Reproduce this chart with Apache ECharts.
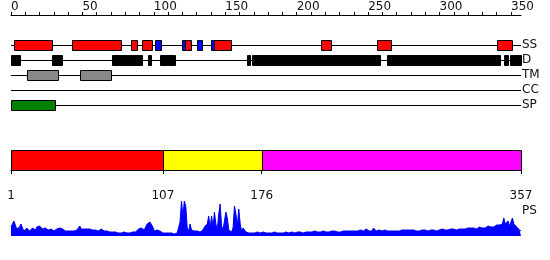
<!DOCTYPE html>
<html><head><meta charset="utf-8">
<script src="https://cdn.jsdelivr.net/npm/echarts@6/dist/echarts.min.js"></script>
<style>html,body{margin:0;padding:0;background:#fff}#c{width:550px;height:260px}</style>
</head><body><div id="c"></div>
<script>
const tracks = ['SS', 'D', 'TM', 'CC', 'SP'];
const seqLength = 357;
const topTickLabels = [0, 50, 100, 150, 200, 250, 300, 350];
const bottomTickLabels = [1, 107, 176, 357];

const ssStart = [3, 44, 85, 93, 102, 121, 123, 131, 141, 143, 218, 257, 341];
const ssEnd   = [29, 77, 88, 99, 105, 122, 126, 134, 142, 154, 224, 266, 351];
const ssType  = ['H', 'H', 'H', 'H', 'E', 'E', 'H', 'E', 'E', 'H', 'H', 'H', 'H'];
const disStart = [1, 30, 72, 97, 105, 166, 170, 264, 346, 350];
const disEnd   = [6, 36, 92, 98, 115, 167, 258, 342, 348, 357];
const tmStart = [12, 49];
const tmEnd   = [33, 70];
const ccStart = [];
const ccEnd   = [];
const spStart = [1];
const spEnd   = [31];
const domainStart = [1, 107, 176];

const psProfile = [
9,12,15,11,7,6,9,12,8,5,
6,8,7,5,6,8,7,6,9,8,
10,9,7,6,8,7,6,5,7,6,
5,6,7,6,8,9,7,6,5,6,
5,4,5,6,5,7,6,8,10,7,
6,7,6,7,6,7,6,6,7,6,
6,5,6,7,6,5,6,5,4,4,
3,4,3,4,3,3,4,3,3,4,
3,3,4,3,3,4,3,4,5,7,
6,8,7,6,9,12,10,14,15,9,
5,4,6,8,5,3,3,4,3,3,
3,2,3,3,2,3,3,2,14,35,
20,35,30,8,5,12,6,4,5,4,
5,6,4,5,6,9,7,12,20,8,
20,9,24,12,6,22,32,10,6,8,
24,18,6,5,4,8,30,22,10,27,
12,5,8,6,4,3,3,4,3,3,
3,3,4,3,3,3,4,3,3,4,
3,4,3,3,4,3,3,4,3,4,
3,3,4,4,3,3,4,4,3,4,
4,3,4,4,3,4,4,5,4,4,
4,4,5,4,4,5,4,4,5,4,
4,5,4,4,5,4,5,4,4,5,
4,5,5,4,5,6,5,4,5,5,
5,4,5,5,6,5,5,6,7,5,
5,6,5,8,6,5,5,6,5,5,
5,6,5,5,6,5,6,5,6,5,
6,5,5,6,8,6,5,6,5,6,
5,6,6,5,6,5,6,6,5,6,
6,5,6,6,7,6,6,5,6,6,
6,7,6,6,7,6,7,7,6,7,
7,6,7,7,6,7,8,7,7,8,
7,8,7,8,8,7,8,9,8,8,
9,8,9,10,9,9,10,9,10,11,
10,11,10,12,18,12,10,15,10,12,
18,12,10,9,8,6,5
];

// ---- build ----
const FONT = 'DejaVu Sans';
const typeColor = { H: '#ff0000', E: '#0000ff', D: '#000000', TM: '#888888', SP: '#008000' };
const domainColors = ['#ff0000', '#ffff00', '#ff00ff'];
const rowOf = name => tracks.indexOf(name) + 2;

const featData = [];
ssStart.forEach((s, i) => featData.push([s - 1, ssEnd[i], rowOf('SS'), ssType[i]]));
disStart.forEach((s, i) => featData.push([s - 1, disEnd[i], rowOf('D'), 'D']));
tmStart.forEach((s, i) => featData.push([s - 1, tmEnd[i], rowOf('TM'), 'TM']));
ccStart.forEach((s, i) => featData.push([s - 1, ccEnd[i], rowOf('CC'), 'CC']));
spStart.forEach((s, i) => featData.push([s - 1, spEnd[i], rowOf('SP'), 'SP']));

const lineData = tracks.map(t => [0, seqLength, rowOf(t)]);
const topTicks = [];
for (let v = 0; v <= 350; v += 10) topTicks.push(v);

const domData = domainStart.map((s, i) => [s, i + 1 < domainStart.length ? domainStart[i + 1] : seqLength, i]);
const psData = psProfile.map((v, i) => [i + 1, v]);

const px = v => Math.round(v) + 0.5;

const chart = echarts.init(document.getElementById('c'), null, { renderer: 'canvas' });
chart.setOption({
  animation: false,
  textStyle: { fontFamily: FONT },
  grid: [
    { left: 11, width: 510, top: 15, height: 97.5 },
    { left: 11, width: 510, top: 150, height: 20 },
    { left: 11, width: 510, top: 201, height: 35 }
  ],
  xAxis: [
    { gridIndex: 0, type: 'value', position: 'top', min: 0, max: seqLength,
      axisLine: { show: true, lineStyle: { color: '#000', width: 1 } },
      axisTick: { show: true, length: 3, customValues: topTicks, lineStyle: { color: '#000' } },
      axisLabel: { show: true, customValues: topTickLabels, align: 'left', margin: 2,
        color: '#111', fontSize: 12, fontFamily: FONT },
      splitLine: { show: false } },
    { gridIndex: 1, type: 'value', position: 'bottom', offset: 10, min: 1, max: seqLength,
      axisLine: { show: true, lineStyle: { color: '#000', width: 1 } },
      axisTick: { show: true, length: 4, customValues: bottomTickLabels, lineStyle: { color: '#000' } },
      axisLabel: { show: true, customValues: bottomTickLabels, margin: 10,
        color: '#111', fontSize: 12, fontFamily: FONT },
      splitLine: { show: false } },
    { gridIndex: 2, type: 'value', min: 1, max: seqLength, show: false }
  ],
  yAxis: [
    { gridIndex: 0, type: 'value', inverse: true, min: 0, max: 6.5, position: 'right',
      axisLine: { show: false }, axisTick: { show: false }, splitLine: { show: false },
      axisLabel: { show: true, customValues: [2, 3, 4, 5, 6], margin: 1, align: 'left',
        formatter: v => tracks[Math.round(v) - 2] || '', color: '#111', fontSize: 12, fontFamily: FONT } },
    { gridIndex: 1, type: 'value', min: 0, max: 1, show: false },
    { gridIndex: 2, type: 'value', min: 0, max: 35, show: false }
  ],
  graphic: [
    { type: 'text', left: 522, top: 205, style: { text: 'PS', fill: '#111', font: '12px "DejaVu Sans"' } }
  ],
  series: [
    { type: 'custom', xAxisIndex: 0, yAxisIndex: 0, data: lineData, z: 1, silent: true,
      renderItem: (params, api) => {
        const a = api.coord([api.value(0), api.value(2)]);
        const b = api.coord([api.value(1), api.value(2)]);
        const y = px(a[1]);
        return { type: 'line', shape: { x1: a[0], y1: y, x2: b[0], y2: y },
          style: { stroke: '#000', lineWidth: 1 } };
      } },
    { type: 'custom', xAxisIndex: 0, yAxisIndex: 0, data: featData, z: 2, silent: true,
      encode: { x: [0, 1], y: 2 },
      renderItem: (params, api) => {
        const a = api.coord([api.value(0), api.value(2)]);
        const b = api.coord([api.value(1), api.value(2)]);
        const x0 = px(a[0]), x1 = px(b[0]);
        const yc = Math.round(a[1]);
        const key = featData[params.dataIndex][3];
        return { type: 'rect', shape: { x: x0, y: yc - 4.5, width: Math.max(1, x1 - x0), height: 10 },
          style: { fill: typeColor[key] || '#000', stroke: '#000', lineWidth: 1 } };
      } },
    { type: 'custom', xAxisIndex: 1, yAxisIndex: 1, data: domData, silent: true,
      encode: { x: [0, 1] },
      renderItem: (params, api) => {
        const a = api.coord([api.value(0), 1]);
        const b = api.coord([api.value(1), 0]);
        const x0 = px(a[0]), x1 = px(b[0]), y0 = px(a[1]), y1 = px(b[1]);
        return { type: 'rect', shape: { x: x0, y: y0, width: x1 - x0, height: y1 - y0 },
          style: { fill: domainColors[api.value(2)], stroke: '#000', lineWidth: 1 } };
      } },
    { type: 'line', xAxisIndex: 2, yAxisIndex: 2, data: psData, showSymbol: false, symbol: 'none',
      sampling: 'none', silent: true,
      lineStyle: { color: '#0000ff', width: 1 },
      areaStyle: { color: '#0000ff', opacity: 1 } }
  ]
});
</script>
</body></html>
